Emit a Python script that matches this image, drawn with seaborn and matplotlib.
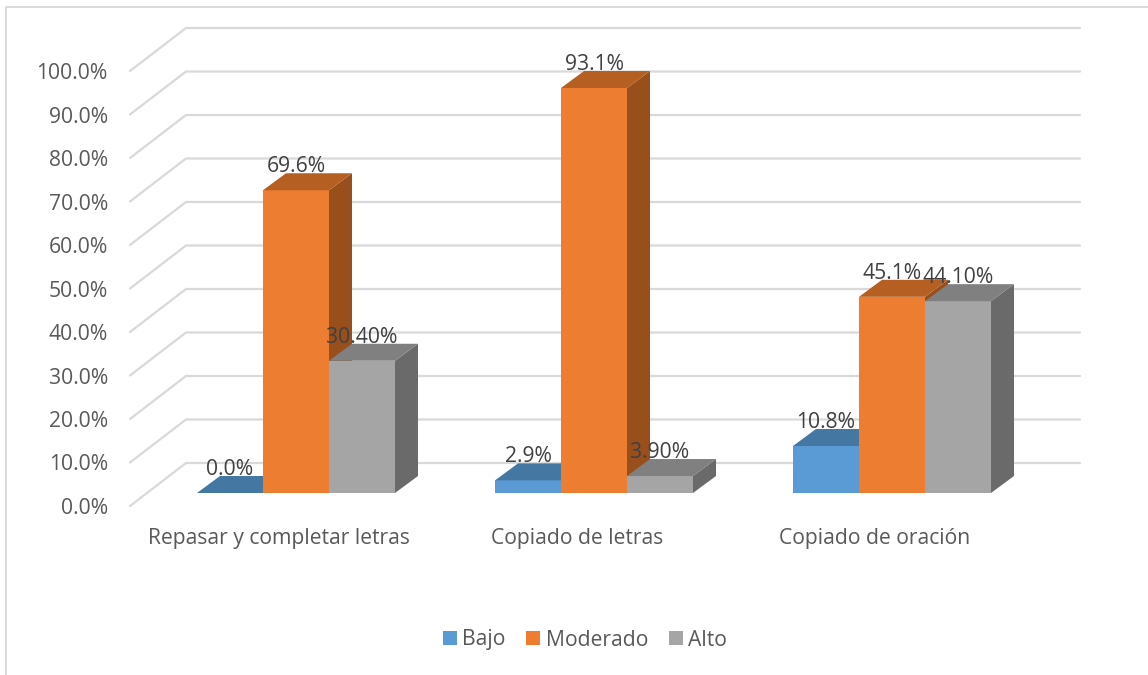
import matplotlib
matplotlib.use("Agg")
import matplotlib.pyplot as plt
from matplotlib.patches import Polygon
import pandas as pd
import seaborn as sns

categories = ["Repasar y completar letras", "Copiado de letras", "Copiado de oración"]
series = ["Bajo", "Moderado", "Alto"]
bajo = [0.0, 2.9, 10.8]
moderado = [69.6, 93.1, 45.1]
alto = [30.4, 3.9, 44.1]
bar_labels = [
    ["0.0%", "2.9%", "10.8%"],
    ["69.6%", "93.1%", "45.1%"],
    ["30.40%", "3.90%", "44.10%"],
]
y_ticks = list(range(0, 101, 10))
y_tick_labels = [f"{v:.1f}%" for v in y_ticks]
palette = ["#5B9BD5", "#ED7D31", "#A5A5A5"]
top_shade = ["#4577A3", "#B55F22", "#808080"]
side_shade = ["#3D6A92", "#984F1C", "#6A6A6A"]

TEXT = "#595959"
LABEL = "#404040"
GRID = "#D9D9D9"
FONT = "Open Sans"
FONT_SIZE = 15.2

W, H = 1148, 675
PX_PER_PCT = 4.35
PX_PER_CAT = 298

sns.set_theme(style="white")
plt.rcParams["font.family"] = [FONT, "DejaVu Sans"]

fig = plt.figure(figsize=(W / 100, H / 100), dpi=100, facecolor="white")


def axes_at(left, baseline):
    """Axes whose 0% line sits at pixel row `baseline`, with the shared scale."""
    return fig.add_axes([left / W, (H - baseline) / H,
                         3 * PX_PER_CAT / W, 100 * PX_PER_PCT / H])


# Outer chart frame: top and left edges only
fig.add_artist(plt.Line2D([5.5 / W, 5.5 / W, 1], [0, 1 - 6.5 / H, 1 - 6.5 / H],
                          color="#D9D9D9", lw=1.4, transform=fig.transFigure))

# Wall plane: receding gridlines and the axis labels
wall = axes_at(130, 506)
wall.set_xlim(-0.5, 2.5)
wall.set_ylim(0, 100)
wall_dx = 56 / PX_PER_CAT
wall_dy = 43 / PX_PER_PCT
for v in y_ticks:
    wall.plot([-0.5, -0.5 + wall_dx, 2.5 + wall_dx],
              [v, v + wall_dy, v + wall_dy],
              color=GRID, lw=1.6, clip_on=False, solid_joinstyle="miter", zorder=1)
wall.set_xticks(range(3), categories)
wall.set_yticks(y_ticks, y_tick_labels)
wall.tick_params(axis="y", length=0, pad=16, labelsize=FONT_SIZE, labelcolor=TEXT)
wall.tick_params(axis="x", length=0, pad=15.6, labelsize=FONT_SIZE, labelcolor=TEXT)
sns.despine(ax=wall, left=True, bottom=True)
wall.patch.set_visible(False)

# Bar plane: front faces come from seaborn, depth faces are derived from them
ax = axes_at(147, 493)
ax.patch.set_visible(False)
frame = pd.DataFrame({
    "categoria": categories * 3,
    "nivel": [s for s in series for _ in categories],
    "valor": bajo + moderado + alto,
})
sns.barplot(data=frame, x="categoria", y="valor", hue="nivel", hue_order=series,
            order=categories, palette=palette, saturation=1, width=198 / PX_PER_CAT,
            gap=0, dodge=True, ax=ax, linewidth=0)
ax.set_xlim(-0.5, 2.5)
ax.set_ylim(0, 100)
ax.set_axis_off()

depth_x = 23 / PX_PER_CAT
depth_y = 17 / PX_PER_PCT
for i, container in enumerate(ax.containers):
    for j, bar in enumerate(container):
        x0 = bar.get_x()
        x1 = x0 + bar.get_width()
        top = bar.get_height()
        order = 3 + 0.1 * (j * 3 + i)
        bar.set_zorder(order)
        ax.add_patch(Polygon([(x1, 0), (x1 + depth_x, depth_y),
                              (x1 + depth_x, top + depth_y), (x1, top)],
                             closed=True, fc=side_shade[i], ec="none",
                             zorder=order, clip_on=False))
        ax.add_patch(Polygon([(x0, top), (x0 + depth_x, top + depth_y),
                              (x1 + depth_x, top + depth_y), (x1, top)],
                             closed=True, fc=top_shade[i], ec="none",
                             zorder=order, clip_on=False))
        ax.annotate(bar_labels[i][j], xy=((x0 + x1) / 2, top),
                    xytext=(0, 23.5 * 0.72), textcoords="offset points",
                    ha="center", va="center", fontsize=FONT_SIZE, color=LABEL,
                    zorder=20, annotation_clip=False)

# Legend along the bottom of the chart
sns.move_legend(ax, "center", bbox_to_anchor=(585 / W, 1 - 640 / H),
                bbox_transform=fig.transFigure, ncol=3, frameon=False, title=None,
                fontsize=FONT_SIZE, handlelength=0.66, handleheight=0.66,
                handletextpad=0.25, columnspacing=1.0, labelcolor=TEXT, borderpad=0)

fig.savefig("out.png", dpi=100, facecolor="white")
